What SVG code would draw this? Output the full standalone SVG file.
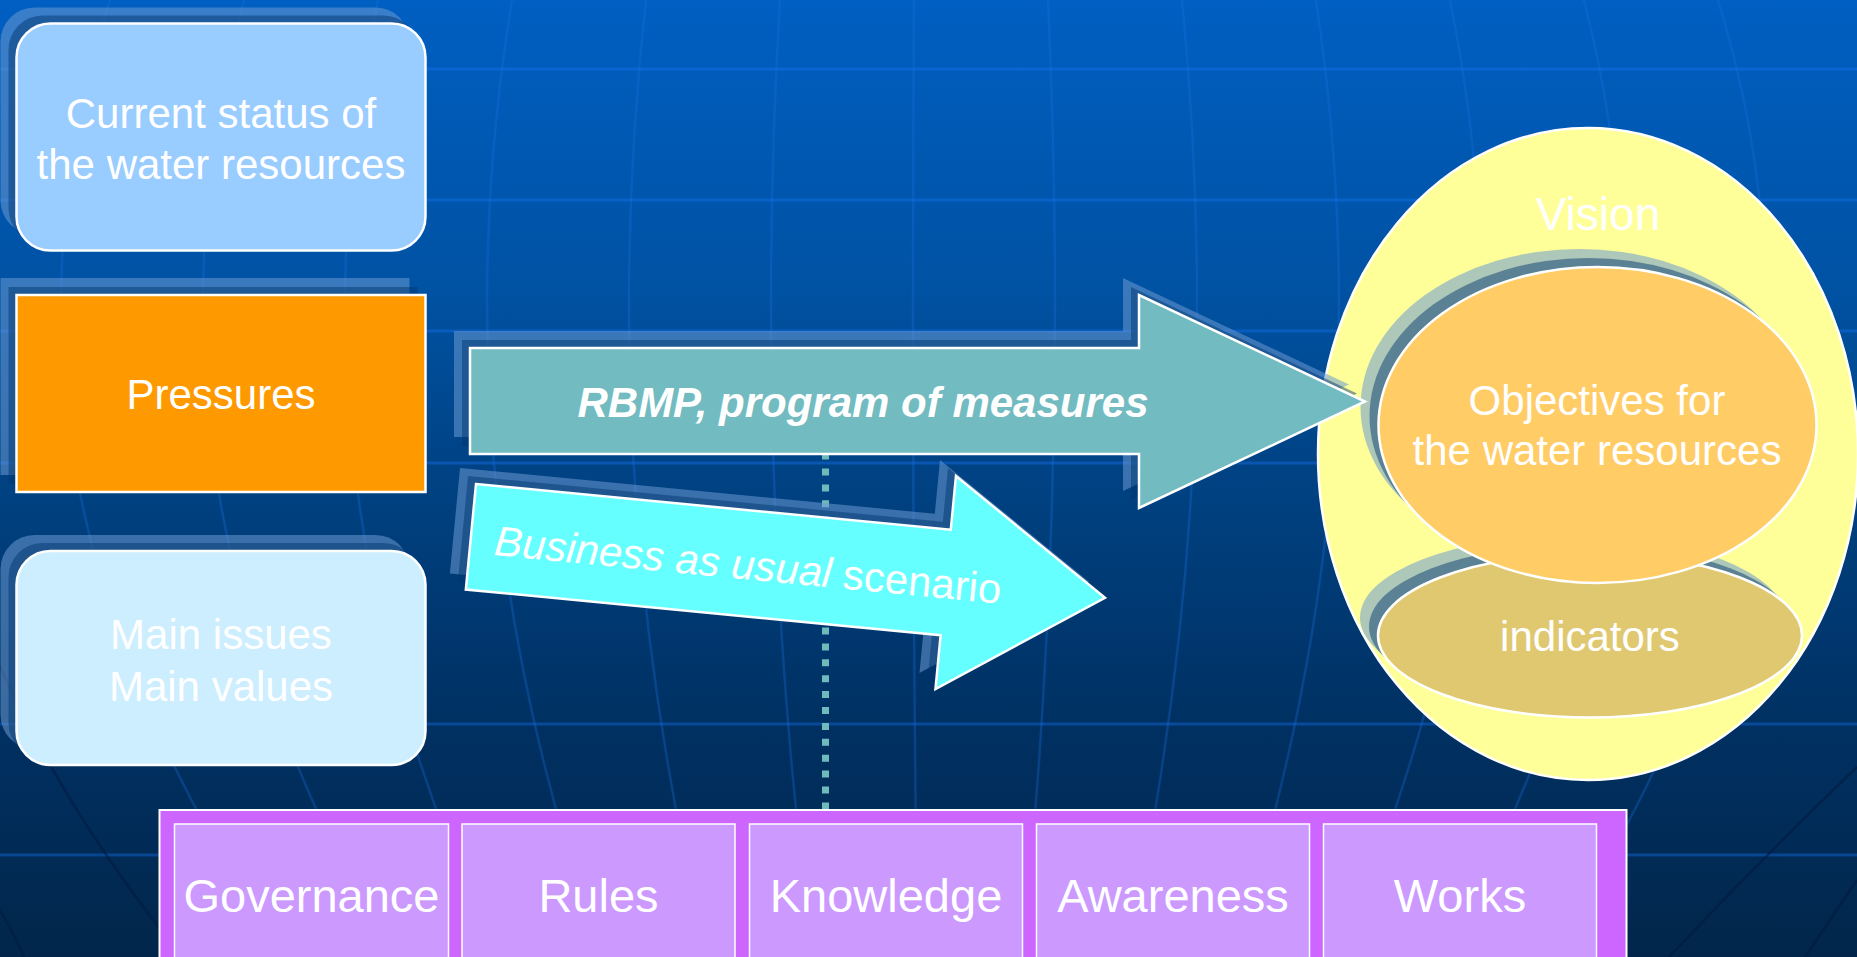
<svg xmlns="http://www.w3.org/2000/svg" width="1857" height="957" viewBox="0 0 1857 957">
<defs>
<linearGradient id="bg" x1="0" y1="0" x2="0" y2="1">
<stop offset="0" stop-color="#005fc2"/>
<stop offset="0.3" stop-color="#0052a3"/>
<stop offset="0.5" stop-color="#004283"/>
<stop offset="0.75" stop-color="#003163"/>
<stop offset="1" stop-color="#02264b"/>
</linearGradient>
<rect id="s-box1" x="16.5" y="23.5" width="409" height="227" rx="34"/>
<rect id="s-box2" x="16.5" y="295" width="409" height="197"/>
<rect id="s-box3" x="16.5" y="551" width="409" height="214" rx="34"/>
<polygon id="s-rbmp" points="470,348 1139,348 1139,295 1365,401.5 1139,508 1139,454 470,454"/>
<polygon id="s-bau" transform="translate(476,484) rotate(5.5)" points="0,0 477,0 477,-54 637,53 477,160 477,106 0,106"/>
<ellipse id="s-obj" cx="1597.5" cy="425" rx="219" ry="158"/>
<ellipse id="s-ind" cx="1590" cy="635.5" rx="212" ry="82"/>
</defs>
<style>
.sh1{fill:#6a99d1;fill-opacity:.55;stroke:none}
.sh2{fill:#00366c;fill-opacity:.47;stroke:none}
.edge{stroke:#ffffff;stroke-width:2.5}
.lbl{font-family:"Liberation Sans",Arial,Helvetica,sans-serif;fill:#ffffff;text-anchor:middle;font-size:42px}
.hl{stroke:#1a78ff;stroke-opacity:.35;stroke-width:3}
.vl{fill:none;stroke:#1a6fe0;stroke-opacity:.3;stroke-width:2.5}
.dk{fill:none;stroke:#001a40;stroke-opacity:.55;stroke-width:2.5}
.cell{fill:#cc99ff;stroke:#ffffff;stroke-width:1.5}
.cl{font-size:47px}
</style>

<g id="background">
<rect x="0" y="0" width="1857" height="957" fill="url(#bg)"/>
<line class="hl" x1="0" y1="69" x2="1857" y2="69"/>
<line class="hl" x1="0" y1="200" x2="1857" y2="200"/>
<line class="hl" x1="0" y1="331" x2="1857" y2="331"/>
<line class="hl" x1="0" y1="463" x2="1857" y2="463"/>
<line class="hl" x1="0" y1="724" x2="1857" y2="724"/>
<line class="hl" x1="0" y1="855" x2="1857" y2="855"/>
<path class="vl" d="M110,0 Q-44.2,478.5 287,957"/>
<path class="vl" d="M244,0 Q115,478.5 392.1,957"/>
<path class="vl" d="M378,0 Q274.2,478.5 497.2,957"/>
<path class="vl" d="M512,0 Q433.4,478.5 602.2,957"/>
<path class="vl" d="M646,0 Q592.5,478.5 707.3,957"/>
<path class="vl" d="M780,0 Q751.7,478.5 812.4,957"/>
<path class="vl" d="M914,0 Q910.9,478.5 917.4,957"/>
<path class="vl" d="M1048,0 Q1070.1,478.5 1022.5,957"/>
<path class="vl" d="M1182,0 Q1229.3,478.5 1127.5,957"/>
<path class="vl" d="M1315.9,0 Q1388.5,478.5 1232.6,957"/>
<path class="vl" d="M1449.9,0 Q1547.7,478.5 1337.7,957"/>
<path class="vl" d="M1583.9,0 Q1706.9,478.5 1442.7,957"/>
<path class="vl" d="M1717.9,0 Q1866.1,478.5 1547.8,957"/>
<path class="dk" d="M-24,0 Q-203.4,478.5 182,957"/>
<path class="dk" d="M-40,860 Q0,900 24,957"/>
<path class="dk" d="M1857,767 Q1760,860 1669,957"/>
<path class="dk" d="M1857,880 L1805,957"/>
</g>

<g id="connectors">
<line x1="825.5" y1="389" x2="825.5" y2="810" stroke="#6fbaba" stroke-width="7" stroke-dasharray="7 8.9"/>
</g>

<g id="node-current-status">
<use href="#s-box1" class="sh1" transform="translate(-16,-16)"/>
<use href="#s-box1" class="sh2" transform="translate(-8,-8)"/>
<use href="#s-box1" class="edge" fill="#99ccff"/>
<text class="lbl" x="221" y="128">Current status of</text>
<text class="lbl" x="221" y="179">the water resources</text>
</g>

<g id="node-pressures">
<use href="#s-box2" class="sh1" transform="translate(-16,-17)"/>
<use href="#s-box2" class="sh2" transform="translate(-8,-8)"/>
<use href="#s-box2" class="edge" fill="#ff9900"/>
<text class="lbl" x="221" y="409">Pressures</text>
</g>

<g id="node-main-issues">
<use href="#s-box3" class="sh1" transform="translate(-16,-16)"/>
<use href="#s-box3" class="sh2" transform="translate(-8,-8)"/>
<use href="#s-box3" class="edge" fill="#cceeff"/>
<text class="lbl" x="221" y="649">Main issues</text>
<text class="lbl" x="221" y="701">Main values</text>
</g>

<g id="node-vision">
<ellipse cx="1588" cy="454" rx="270" ry="326" fill="#ffff99" stroke="#ffffff" stroke-width="2.5"/>
<text class="lbl" x="1598" y="230" style="font-size:46px">Vision</text>
</g>

<g id="node-indicators">
<use href="#s-ind" class="sh1" transform="translate(-18,-18)"/>
<use href="#s-ind" class="sh2" transform="translate(-9,-9)"/>
<use href="#s-ind" class="edge" fill="#e0c870"/>
<text class="lbl" x="1590" y="651">indicators</text>
</g>

<g id="node-objectives">
<use href="#s-obj" class="sh1" transform="translate(-18,-18)"/>
<use href="#s-obj" class="sh2" transform="translate(-9,-9)"/>
<use href="#s-obj" class="edge" fill="#ffcc66"/>
<text class="lbl" x="1597" y="415">Objectives for</text>
<text class="lbl" x="1597" y="465">the water resources</text>
</g>

<g id="node-rbmp-arrow">
<use href="#s-rbmp" class="sh1" transform="translate(-16,-17)"/>
<use href="#s-rbmp" class="sh2" transform="translate(-8,-8)"/>
<use href="#s-rbmp" class="edge" fill="#71bbc1"/>
<text class="lbl" x="863" y="417" style="font-weight:bold;font-style:italic">RBMP, program of measures</text>
</g>

<g id="node-bau-arrow">
<use href="#s-bau" class="sh1" transform="translate(-16,-16)"/>
<use href="#s-bau" class="sh2" transform="translate(-8,-8)"/>
<use href="#s-bau" class="edge" fill="#66ffff"/>
<text class="lbl" transform="translate(476,484) rotate(5.5)" x="24" y="69" style="text-anchor:start"><tspan font-style="italic">Business as usual </tspan><tspan>scenario</tspan></text>
</g>

<g id="node-measures-panel">
<rect x="159.5" y="810" width="1467" height="170" fill="#cc66ff" stroke="#ffffff" stroke-width="2"/>
<g id="node-governance">
<rect class="cell" x="174.5" y="824" width="274" height="150"/>
<text class="lbl cl" x="311.5" y="912">Governance</text>
</g>
<g id="node-rules">
<rect class="cell" x="462" y="824" width="273" height="150"/>
<text class="lbl cl" x="598.5" y="912">Rules</text>
</g>
<g id="node-knowledge">
<rect class="cell" x="749.5" y="824" width="273" height="150"/>
<text class="lbl cl" x="886" y="912">Knowledge</text>
</g>
<g id="node-awareness">
<rect class="cell" x="1036.5" y="824" width="273" height="150"/>
<text class="lbl cl" x="1173" y="912">Awareness</text>
</g>
<g id="node-works">
<rect class="cell" x="1323.5" y="824" width="273" height="150"/>
<text class="lbl cl" x="1460" y="912">Works</text>
</g>
</g>
</svg>
